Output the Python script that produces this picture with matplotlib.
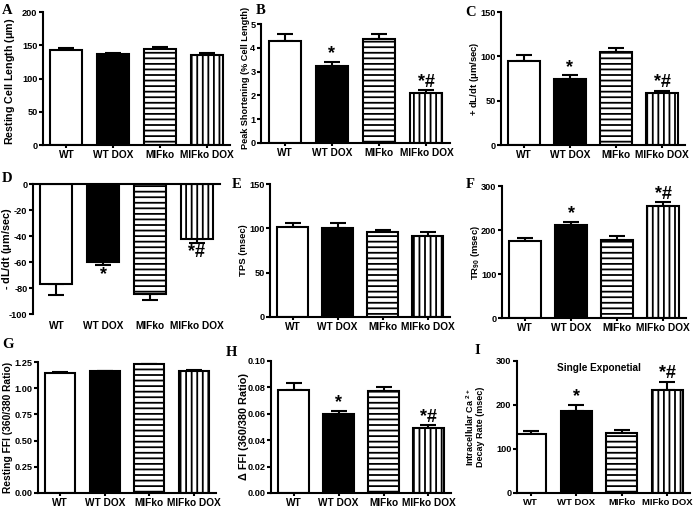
import matplotlib
matplotlib.use('Agg')
import matplotlib.pyplot as plt
import numpy as np

plt.rcParams['font.family'] = ['Liberation Sans', 'DejaVu Sans']
plt.rcParams['font.weight'] = 'bold'
plt.rcParams['hatch.linewidth'] = 1.3
plt.rcParams['mathtext.fontset'] = 'custom'
plt.rcParams['mathtext.rm'] = 'Liberation Sans:bold'
plt.rcParams['mathtext.bf'] = 'Liberation Sans:bold'
plt.rcParams['mathtext.it'] = 'Liberation Sans:bold'

categories = ['WT', 'WT DOX', 'MIFko', 'MIFko DOX']

resting_length = [143, 137, 145, 136]
resting_length_err = [3, 2, 3, 2]
peak_shortening = [4.30, 3.22, 4.37, 2.10]
peak_shortening_err = [0.28, 0.20, 0.22, 0.11]
plus_dldt = [95, 74.6, 104.8, 58.4]
plus_dldt_err = [6, 4.2, 4.2, 3]
minus_dldt = [-77, -59.7, -84.4, -42.6]
minus_dldt_err = [8, 2.6, 5.2, 2.6]
tps = [102, 100.9, 96, 91.8]
tps_err = [3.6, 5.3, 1.8, 4.2]
tr90 = [175.8, 210.6, 177, 253.8]
tr90_err = [7, 7.5, 10, 9.8]
resting_ffi = [1.149, 1.162, 1.228, 1.165]
resting_ffi_err = [0.004, 0.004, 0.004, 0.008]
delta_ffi = [0.0778, 0.0600, 0.0770, 0.0490]
delta_ffi_err = [0.0052, 0.0025, 0.0030, 0.0023]
decay_rate = [134.8, 187, 135.5, 234.8]
decay_rate_err = [5, 13, 7.5, 18]

marks_none = ['', '', '', '']
marks_sig = ['', '*', '', '*#']

W, H = 693, 509
fig = plt.figure(figsize=(W / 100, H / 100), dpi=100)

# (letter, letter_xy, axes rect px [xl, xr, ytop, ybot], xlim, ylim, yticks, fmt,
#  ylabel, ylabel size, ylabel (x px, y frac), xtick size, means, errs, marks)
panels = [
    ('A', (2, 10), [43, 230, 12, 145], (-0.5, 3.5), (0, 200), [0, 50, 100, 150, 200], '%d',
     'Resting Cell Length ($\\mu$m)', 7.7, (10, 0.48), 7.3, resting_length, resting_length_err, marks_none),
    ('B', (256, 10), [261, 450, 24, 143], (-0.5, 3.5), (0, 5), [0, 1, 2, 3, 4, 5], '%d',
     'Peak Shortening (% Cell Length)', 6.6, (245, 0.55), 7.3, peak_shortening, peak_shortening_err, marks_sig),
    ('C', (465, 13), [501, 685, 12, 145], (-0.5, 3.5), (0, 150), [0, 50, 100, 150], '%d',
     '+ dL/dt ($\\mu$m/sec)', 6.8, (475, 0.5), 7.3, plus_dldt, plus_dldt_err, marks_sig),
    ('D', (2, 178), [33, 220, 184, 314], (-0.5, 3.5), (-100, 0), [-100, -80, -60, -40, -20, 0], '%d',
     '- dL/dt ($\\mu$m/sec)', 7.8, (7, 0.5), 7.3, minus_dldt, minus_dldt_err, marks_sig),
    ('E', (232, 184), [270, 450, 184, 317], (-0.5, 3.5), (0, 150), [0, 50, 100, 150], '%d',
     'TPS (msec)', 6.8, (244, 0.5), 7.3, tps, tps_err, marks_none),
    ('F', (466, 185), [502, 686, 186, 318], (-0.5, 3.5), (0, 300), [0, 100, 200, 300], '%d',
     'TR$_{90}$ (msec)', 6.8, (475, 0.5), 7.3, tr90, tr90_err, marks_sig),
    ('G', (2, 345), [38, 216, 362, 493], (-0.5, 3.5), (0, 1.25), [0, 0.25, 0.5, 0.75, 1.0, 1.25], '%.2f',
     'Resting FFI (360/380 Ratio)', 7.4, (8, 0.5), 7.3, resting_ffi, resting_ffi_err, marks_none),
    ('H', (226, 352), [271, 451, 361, 493], (-0.5, 3.5), (0, 0.10), [0, 0.02, 0.04, 0.06, 0.08, 0.10], '%.2f',
     '\u0394 FFI (360/380 Ratio)', 7.8, (244, 0.5), 7.3, delta_ffi, delta_ffi_err, marks_sig),
    ('I', (474, 350), [517, 690, 361, 493], (-0.3, 3.5), (0, 300), [0, 100, 200, 300], '%d',
     'Intracellular Ca $^{2+}$\nDecay Rate (msec)', 6.5, (475, 0.5), 6.8, decay_rate, decay_rate_err, marks_sig),
]

face = ['white', 'black', 'white', 'white']
hatches = [None, None, '---', '|||']

for (letter, lxy, rect, xlim, ylim, yticks, fmt, ylabel, ylsize, ylpos, xtsize,
     means, errs, marks) in panels:
    xl, xr, yt, yb = rect
    ax = fig.add_axes([xl / W, 1 - yb / H, (xr - xl) / W, (yb - yt) / H])
    x = np.arange(len(categories))
    neg = ylim[1] <= 0
    errs = np.array(errs)
    zeros = np.zeros_like(errs)
    yerr = [errs, zeros] if neg else [zeros, errs]
    ax.errorbar(x, means, yerr=yerr, fmt='none', ecolor='black', elinewidth=1.5,
                capsize=5.5, capthick=1.5, zorder=1)
    bars = ax.bar(x, means, width=0.68, color=face, edgecolor='black', linewidth=1.5, zorder=2)
    for b, h in zip(bars, hatches):
        if h:
            b.set_hatch(h)
    for i, m in enumerate(marks):
        if m:
            if neg:
                ax.annotate(m, (x[i], means[i] - errs[i]), xytext=(0, -1), textcoords='offset points',
                            ha='center', va='top', fontsize=13, fontweight='bold', annotation_clip=False)
            else:
                ax.annotate(m, (x[i], means[i] + errs[i]), xytext=(0, 2.5), textcoords='offset points',
                            ha='center', va='baseline', fontsize=13, fontweight='bold',
                            annotation_clip=False)
    ax.set_xlim(*xlim)
    ax.set_ylim(*ylim)
    ax.set_yticks(yticks)
    ax.set_yticklabels([fmt % v for v in yticks])
    ax.set_xticks(x)
    ax.set_xticklabels(categories)
    ax.spines[['top', 'right']].set_visible(False)
    ax.spines['left'].set_linewidth(1.5)
    ax.spines['bottom'].set_linewidth(1.5)
    ax.tick_params(axis='y', direction='out', length=3, width=1.5, labelsize=6.6, pad=1)
    ax.tick_params(axis='x', direction='out', length=2.5, width=1.5, labelsize=xtsize, pad=1)
    if neg:
        ax.spines['bottom'].set_visible(False)
        ax.axhline(0, color='black', lw=1.5, clip_on=False, zorder=3)
        ax.tick_params(axis='x', length=0, pad=5)
    ax.set_ylabel(ylabel, fontsize=ylsize, fontweight='bold', va='center', ha='center',
                  multialignment='center', linespacing=1.0)
    ax.yaxis.set_label_coords((ylpos[0] - xl) / (xr - xl), ylpos[1])
    if letter == 'I':
        ax.text(1.5, 285, 'Single Exponetial', ha='center', va='center', fontsize=7.2, fontweight='bold')
    fig.text(lxy[0] / W, 1 - lxy[1] / H, letter, family='Liberation Serif', fontweight='bold',
             fontsize=10.5, ha='left', va='center')

fig.savefig('out.png', dpi=100)
